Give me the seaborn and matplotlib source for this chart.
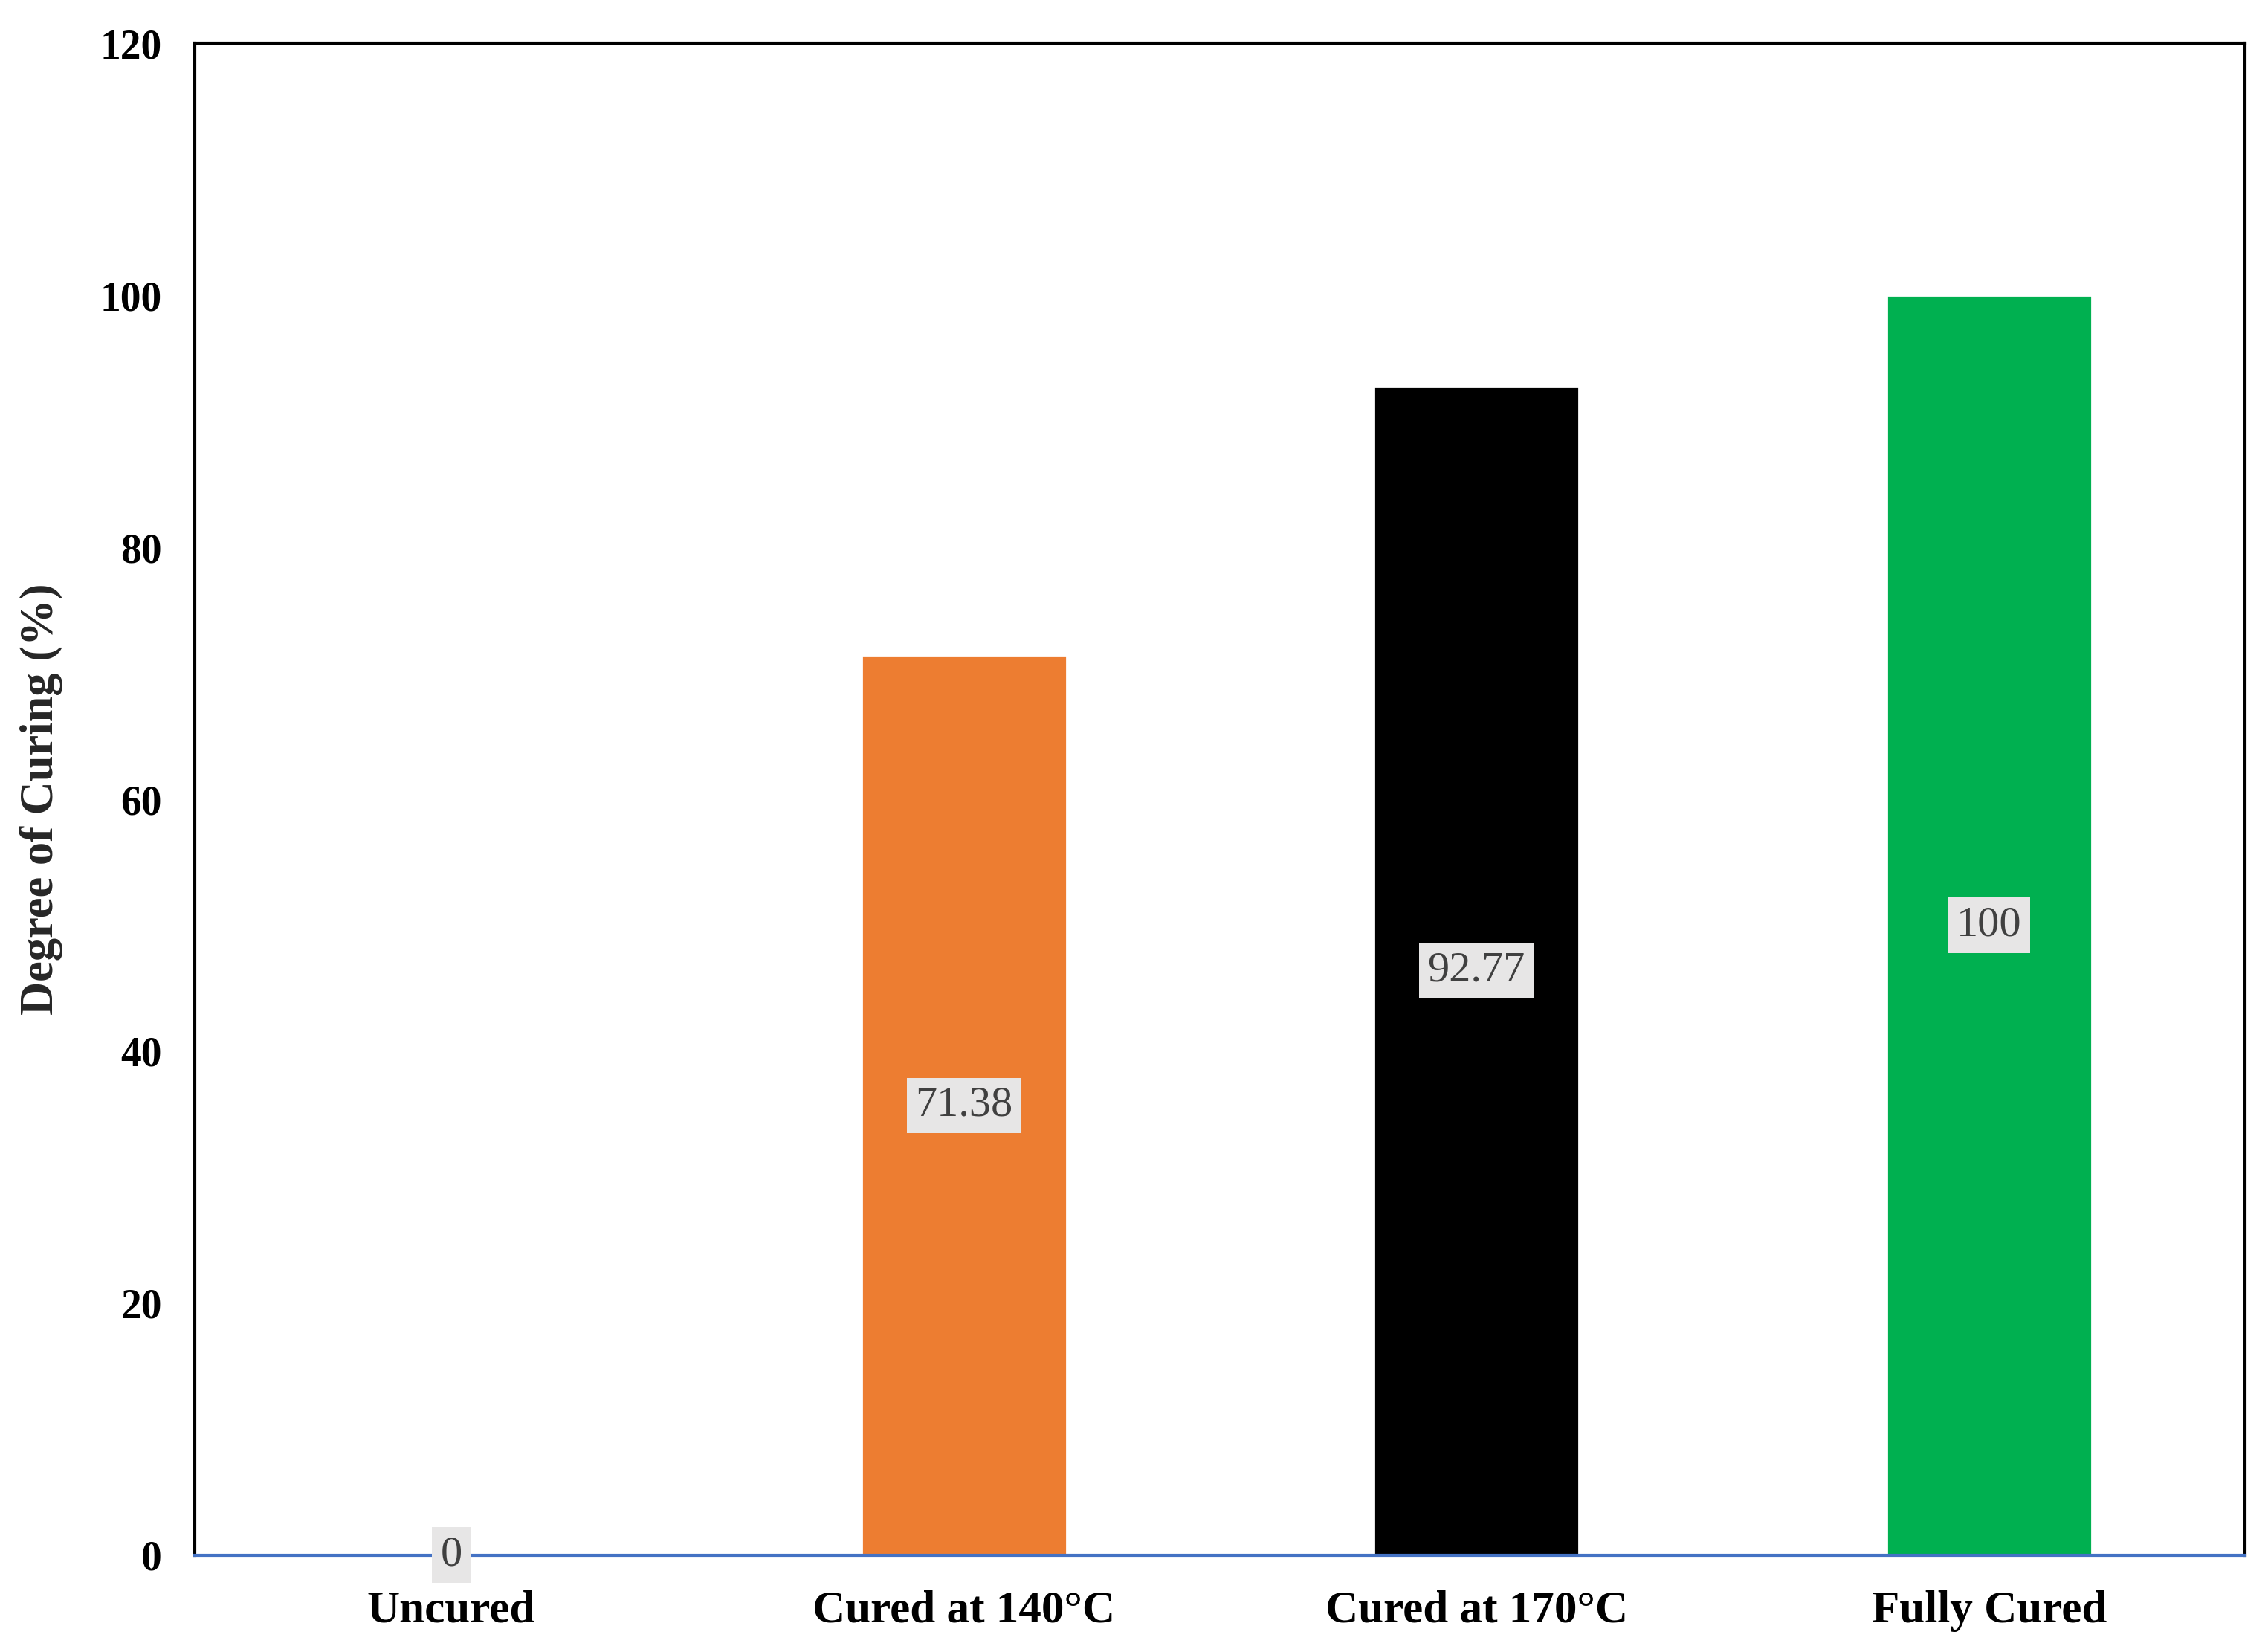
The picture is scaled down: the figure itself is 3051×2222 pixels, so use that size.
import matplotlib
matplotlib.use("Agg")
import matplotlib.pyplot as plt
import seaborn as sns
import pandas as pd

categories = ["Uncured", "Cured at 140°C", "Cured at 170°C", "Fully Cured"]
values = [0, 71.38, 92.77, 100]
bar_colors = ["#4472C4", "#ED7D31", "#000000", "#00B050"]
y_ticks = [0, 20, 40, 60, 80, 100, 120]

sns.set_theme(style="white")
plt.rcParams["font.family"] = ["Liberation Serif", "DejaVu Serif"]

df = pd.DataFrame({"cat": categories, "val": values})

fig = plt.figure(figsize=(15.255, 11.11), dpi=200)
ax = fig.add_axes([0.086, 0.0587, 0.904, 0.915])

sns.barplot(data=df, x="cat", y="val", hue="cat", palette=bar_colors,
            width=0.4, legend=False, ax=ax, saturation=1)

ax.set_xlim(-0.5, 3.5)
ax.set_ylim(0, 120)
ax.set_yticks(y_ticks)
ax.set_yticklabels([str(t) for t in y_ticks], fontsize=20, fontweight="bold")
ax.set_xticks(range(len(categories)))
ax.set_xticklabels(categories, fontsize=22, fontweight="bold")
ax.tick_params(axis="both", length=0, colors="black")
ax.tick_params(axis="y", pad=16)
ax.tick_params(axis="x", pad=17)
ax.set_xlabel("")
ax.set_ylabel("Degree of Curing (%)", fontsize=22.5, fontweight="bold", labelpad=18)

for side in ["left", "top", "right"]:
    ax.spines[side].set_visible(True)
    ax.spines[side].set_color("black")
    ax.spines[side].set_linewidth(1.5)
ax.spines["bottom"].set_visible(True)
ax.spines["bottom"].set_color("#4472C4")
ax.spines["bottom"].set_linewidth(1.5)

for container in ax.containers:
    labels = ax.bar_label(container, fmt="%g", label_type="center",
                          fontsize=21, color="#404040")
    for t in labels:
        t.set_bbox(dict(facecolor="#E7E6E6", edgecolor="none", pad=4))

fig.savefig("out.png", dpi=200, facecolor="white")
